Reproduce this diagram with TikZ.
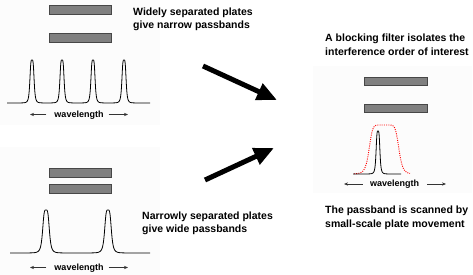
\documentclass[tikz,border=0pt]{standalone}
\usepackage{fontspec}
\setmainfont{Liberation Sans}
\usetikzlibrary{arrows.meta}
\begin{document}
\begin{tikzpicture}[x=1pt,y=-1pt,
  declare function={sq(\t)=\t*\t;
    pk(\x,\c,\w)=1/(1+sq(min(sq((\x-\c)/\w),100)));
    flt(\x)=1/(1+sq(sq(min(sq((\x-384)/15),10))));},
  plate/.style={draw=black!72, fill=black!50, line width=0.8pt},
  curve/.style={line width=0.8pt, black},
  filt/.style={red, line width=0.9pt, dash pattern=on 1pt off 1.2pt},
  bigarrow/.style={line width=5pt, -{Triangle[length=20pt,width=17pt]}},
  wlarrow/.style={line width=0.7pt, black!80, -{Stealth[length=4pt,width=3.2pt]}},
  lbl/.style={font=\fontsize{10.5}{12.5}\selectfont\bfseries, anchor=base west, inner sep=0pt},
  wlt/.style={font=\fontsize{9}{10}\selectfont\bfseries, inner sep=0pt},
  panel/.style={fill=black!1, draw=none}]
\useasboundingbox (0,0) rectangle (473,275);
% faint panels
\fill[panel] (0,0) rectangle (160,125);
\fill[panel] (0,147) rectangle (160,275);
\fill[panel] (313,66) rectangle (472,193);
% ---------- top-left group ----------
\draw[plate] (49,5) rectangle (111,14.5);
\draw[plate] (49,33) rectangle (111,42.5);
\draw[curve] plot[domain=7:150, samples=573]
  (\x, {103-43*(pk(\x,32,2.2)+pk(\x,62,2.2)+pk(\x,93,2.2)+pk(\x,124,2.2))});
\node[wlt] (wl1) at (79,115) {wavelength};
\coordinate (wl1l) at (30,114.5);
\coordinate (wl1r) at (128,114.5);
\draw[wlarrow] ([xshift=-8pt]wl1.west|-wl1l) -- (wl1l);
\draw[wlarrow] ([xshift=5pt]wl1.east|-wl1r) -- (wl1r);
\node[lbl] (t1a) at (133,16) {Widely separated plates};
\node[lbl] (t1b) at (133,28.5) {give narrow passbands};
% ---------- bottom-left group ----------
\draw[plate] (49,168) rectangle (111,177);
\draw[plate] (49,184) rectangle (111,193);
\draw[curve] plot[domain=10:150, samples=561]
  (\x, {253-43*(pk(\x,46,3.5)+pk(\x,108,3.5))});
\node[wlt] (wl2) at (79,268) {wavelength};
\coordinate (wl2l) at (30,267.5);
\coordinate (wl2r) at (128,267.5);
\draw[wlarrow] ([xshift=-8pt]wl2.west|-wl2l) -- (wl2l);
\draw[wlarrow] ([xshift=5pt]wl2.east|-wl2r) -- (wl2r);
\node[lbl] (t2a) at (142,219.5) {Narrowly separated plates};
\node[lbl] (t2b) at (142,232.3) {give wide passbands};
% ---------- right group ----------
\node[lbl] (t3a) at (325,41.7) {A blocking filter isolates the};
\node[lbl] (t3b) at (325,56) {interference order of interest};
\draw[plate] (364,77) rectangle (427,85.5);
\draw[plate] (364,104) rectangle (427,112.5);
\draw[filt] plot[domain=354:410, samples=225] (\x, {174-49*flt(\x)});
\draw[curve] plot[domain=353:401, samples=193] (\x, {174-43*pk(\x,378,2)});
\node[wlt] (wl3) at (394.5,184.5) {wavelength};
\coordinate (wl3l) at (344,184);
\coordinate (wl3r) at (446,184);
\draw[wlarrow] ([xshift=-7pt]wl3.west|-wl3l) -- (wl3l);
\draw[wlarrow] ([xshift=8pt]wl3.east|-wl3r) -- (wl3r);
\node[lbl] (t4a) at (325,213.3) {The passband is scanned by};
\node[lbl] (t4b) at (325,227.3) {small-scale plate movement};
% ---------- big arrows ----------
\coordinate (a1s) at (203,66);
\coordinate (a1e) at (277,100);
\coordinate (a2s) at (205,180);
\coordinate (a2e) at (274,148);
\draw[bigarrow] (a1s) -- (a1e);
\draw[bigarrow] (a2s) -- (a2e);
\end{tikzpicture}
\end{document}
